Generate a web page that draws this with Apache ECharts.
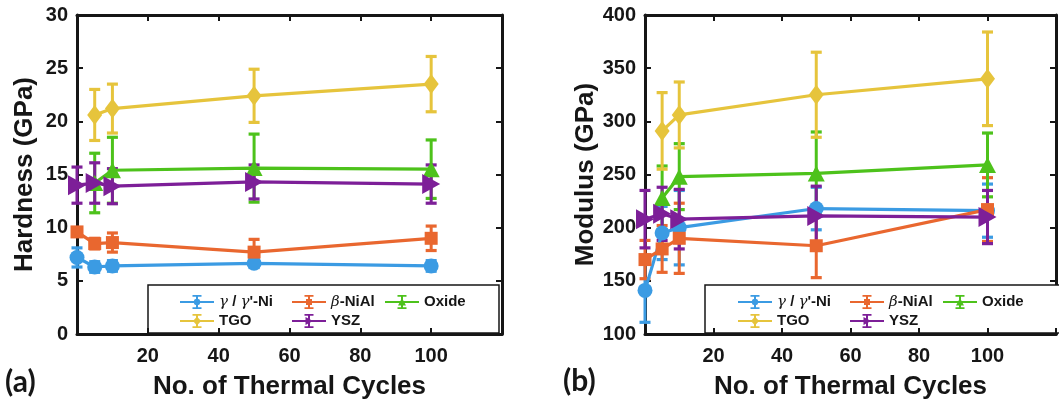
<!DOCTYPE html>
<html>
<head>
<meta charset="utf-8">
<script src="https://cdn.jsdelivr.net/npm/echarts@6/dist/echarts.min.js"></script>
<style>
  html, body { margin: 0; padding: 0; background: #ffffff; }
  #chart { width: 1059px; height: 405px; }
</style>
</head>
<body>
<div id="chart"></div>
<script>
// Thermal cycle counts at which each phase was indented
const cycles = [0, 5, 10, 50, 100];
const materials = ["γ / γ'-Ni", 'β-NiAl', 'Oxide', 'TGO', 'YSZ'];

// Hardness (GPa): mean and +/- error per phase
const gammaHardness = [7.2, 6.3, 6.4, 6.65, 6.4];
const gammaHardnessErr = [0.9, 0.5, 0.5, 0.4, 0.5];
const betaHardness = [9.6, 8.5, 8.6, 7.7, 9.0];
const betaHardnessErr = [0.4, 0.5, 0.9, 1.2, 1.15];
const oxideHardness = [null, 14.2, 15.4, 15.6, 15.5];
const oxideHardnessErr = [null, 2.8, 3.1, 3.2, 2.75];
const tgoHardness = [null, 20.6, 21.2, 22.4, 23.5];
const tgoHardnessErr = [null, 2.4, 2.3, 2.5, 2.6];
const yszHardness = [14.0, 14.2, 13.9, 14.3, 14.1];
const yszHardnessErr = [1.7, 1.9, 1.65, 1.6, 1.8];

// Elastic modulus (GPa): mean and +/- error per phase
const gammaModulus = [141, 195, 200, 218, 216];
const gammaModulusErr = [30, 25, 35, 20, 25];
const betaModulus = [170, 180, 190, 183, 217];
const betaModulusErr = [18, 22, 33, 30, 30];
const oxideModulus = [null, 228, 248, 251, 259];
const oxideModulusErr = [null, 30, 31, 39, 30];
const tgoModulus = [null, 291, 306, 325, 340];
const tgoModulusErr = [null, 36, 31, 40, 44];
const yszModulus = [208, 213, 208, 211, 210];
const yszModulusErr = [27, 25, 28, 28, 25];

const colors = ['#3b9be3', '#e9672f', '#4dc21b', '#e6c43c', '#7d1f98'];
const symbols = ['circle', 'rect', 'triangle', 'diamond', 'path://M0,0L10,6L0,12Z'];
const symbolSizes = [15, 13, [17, 16], [15, 20], [18, 20]];

// Legend glyphs: line + error bar + small marker
const iconBase = 'M0,6H34V8H0Z M16,1H18V13H16Z M12.5,0H21.5V1.8H12.5Z M12.5,12.2H21.5V14H12.5Z ';
const iconMarks = [
  'M17,3.5L19.5,4.5L20.5,7L19.5,9.5L17,10.5L14.5,9.5L13.5,7L14.5,4.5Z',
  'M14,4H20V10H14Z',
  'M17,3L21,10.5L13,10.5Z',
  'M17,2.5L21,7L17,11.5L13,7Z',
  'M13.5,3L21,7L13.5,11Z'
];

const hardness = [
  [gammaHardness, gammaHardnessErr],
  [betaHardness, betaHardnessErr],
  [oxideHardness, oxideHardnessErr],
  [tgoHardness, tgoHardnessErr],
  [yszHardness, yszHardnessErr]
];
const modulus = [
  [gammaModulus, gammaModulusErr],
  [betaModulus, betaModulusErr],
  [oxideModulus, oxideModulusErr],
  [tgoModulus, tgoModulusErr],
  [yszModulus, yszModulusErr]
];

const FONT = 'Liberation Sans, Arial, sans-serif';
const INK = '#161616';

function points(values, errs) {
  const out = [];
  cycles.forEach((c, i) => {
    if (values[i] != null) out.push([c, values[i], errs[i]]);
  });
  return out;
}

function errorBarRenderer(color) {
  return function (params, api) {
    const x = api.value(0), y = api.value(1), e = api.value(2);
    const top = api.coord([x, y + e]);
    const bot = api.coord([x, y - e]);
    const half = 5.5;
    return {
      type: 'group',
      children: [
        { type: 'line', shape: { x1: top[0], y1: top[1], x2: bot[0], y2: bot[1] }, style: { stroke: color, lineWidth: 3 } },
        { type: 'line', shape: { x1: top[0] - half, y1: top[1], x2: top[0] + half, y2: top[1] }, style: { stroke: color, lineWidth: 3.2 } },
        { type: 'line', shape: { x1: bot[0] - half, y1: bot[1], x2: bot[0] + half, y2: bot[1] }, style: { stroke: color, lineWidth: 3.2 } }
      ]
    };
  };
}

function buildSeries(sets, axisIndex) {
  const out = [];
  sets.forEach((s, k) => {
    const data = points(s[0], s[1]);
    out.push({
      type: 'custom',
      name: materials[k],
      xAxisIndex: axisIndex,
      yAxisIndex: axisIndex,
      renderItem: errorBarRenderer(colors[k]),
      encode: { x: 0, y: 1 },
      data: data,
      clip: false,
      silent: true,
      color: colors[k],
      itemStyle: { color: colors[k] }
    });
    out.push({
      type: 'line',
      name: materials[k],
      xAxisIndex: axisIndex,
      yAxisIndex: axisIndex,
      data: data.map(d => [d[0], d[1]]),
      symbol: symbols[k],
      symbolSize: symbolSizes[k],
      showAllSymbol: true,
      clip: false,
      color: colors[k],
      lineStyle: { width: 3.2, color: colors[k] },
      itemStyle: { color: colors[k] }
    });
  });
  return out;
}

const tickLabel = () => ({ color: INK, fontSize: 20, fontWeight: 'bold', fontFamily: FONT });
const nameStyle = () => ({ color: INK, fontSize: 26, fontWeight: 'bold', fontFamily: FONT });
const frameLine = () => ({ show: true, onZero: false, lineStyle: { color: INK, width: 3 } });
const inTick = () => ({ show: true, inside: true, length: 6, lineStyle: { color: INK, width: 2 } });

function xAxes(gridIndex) {
  return [
    {
      type: 'value', gridIndex, position: 'bottom', min: 0, max: 120, interval: 20, z: 5,
      axisLine: frameLine(), axisTick: inTick(), splitLine: { show: false },
      axisLabel: Object.assign({ margin: 12, formatter: v => (v === 0 || v === 120) ? '' : String(v) }, tickLabel()),
      name: 'No. of Thermal Cycles', nameLocation: 'middle', nameGap: 40, nameTextStyle: nameStyle()
    },
    {
      type: 'value', gridIndex, position: 'top', min: 0, max: 120, interval: 20,
      axisLine: frameLine(), axisTick: inTick(), splitLine: { show: false }, axisLabel: { show: false }
    }
  ];
}

function yAxes(gridIndex, min, max, interval, name) {
  return [
    {
      type: 'value', gridIndex, position: 'left', min, max, interval,
      axisLine: frameLine(), axisTick: inTick(), splitLine: { show: false },
      axisLabel: Object.assign({ margin: 9 }, tickLabel()),
      name, nameLocation: 'middle', nameGap: 39, nameTextStyle: nameStyle()
    },
    {
      type: 'value', gridIndex, position: 'right', min, max, interval,
      axisLine: frameLine(), axisTick: inTick(), splitLine: { show: false }, axisLabel: { show: false }
    }
  ];
}

// Legend entries: three columns, two rows inside a framed box
function legends(cols, rowTops) {
  const place = [[0, 0], [1, 0], [2, 0], [0, 1], [1, 1]];
  return materials.map((m, k) => ({
    data: [{ name: m, itemStyle: { color: colors[k] } }],
    left: cols[place[k][0]],
    top: rowTops[place[k][1]],
    padding: 0,
    itemWidth: 34,
    itemHeight: 14,
    itemGap: 0,
    itemTextGap: 3,
    icon: 'path://' + iconBase + iconMarks[k],
    selectedMode: false,
    textStyle: {
      color: INK, fontSize: 15, fontWeight: 'bold', fontFamily: FONT, lineHeight: 18,
      rich: {
        gr: { fontStyle: 'italic', fontWeight: 'normal', fontFamily: 'DejaVu Serif', fontSize: 15, color: INK, lineHeight: 18 }
      }
    },
    formatter: name => name.replace(/([γβ])/g, '{gr|$1}')
  }));
}

const chart = echarts.init(document.getElementById('chart'), null, { renderer: 'canvas' });

const option = {
  backgroundColor: '#ffffff',
  animation: false,
  grid: [
    { left: 77, top: 15, width: 425, height: 319 },
    { left: 645, top: 15, width: 415, height: 319 }
  ],
  xAxis: [...xAxes(0), ...xAxes(1)],
  yAxis: [
    ...yAxes(0, 0, 30, 5, 'Hardness (GPa)'),
    ...yAxes(1, 100, 400, 50, 'Modulus (GPa)')
  ],
  legend: [
    ...legends([180, 292, 385], [293, 312]),
    ...legends([738, 850, 943], [293, 312])
  ],
  graphic: [
    { type: 'rect', z: 1, shape: { x: 148, y: 285, width: 351, height: 48 },
      style: { fill: '#ffffff', stroke: INK, lineWidth: 1.5 } },
    { type: 'rect', z: 1, shape: { x: 705, y: 285, width: 360, height: 48 },
      style: { fill: '#ffffff', stroke: INK, lineWidth: 1.5 } },
    { type: 'text', z: 10, left: 5, top: 367,
      style: { text: '(a)', fill: INK, font: 'bold 30px Lato, sans-serif' } },
    { type: 'text', z: 10, left: 563, top: 366,
      style: { text: '(b)', fill: INK, font: 'bold 30px Lato, sans-serif' } }
  ],
  series: [...buildSeries(hardness, 0), ...buildSeries(modulus, 2)]
};

chart.setOption(option);
</script>
</body>
</html>
